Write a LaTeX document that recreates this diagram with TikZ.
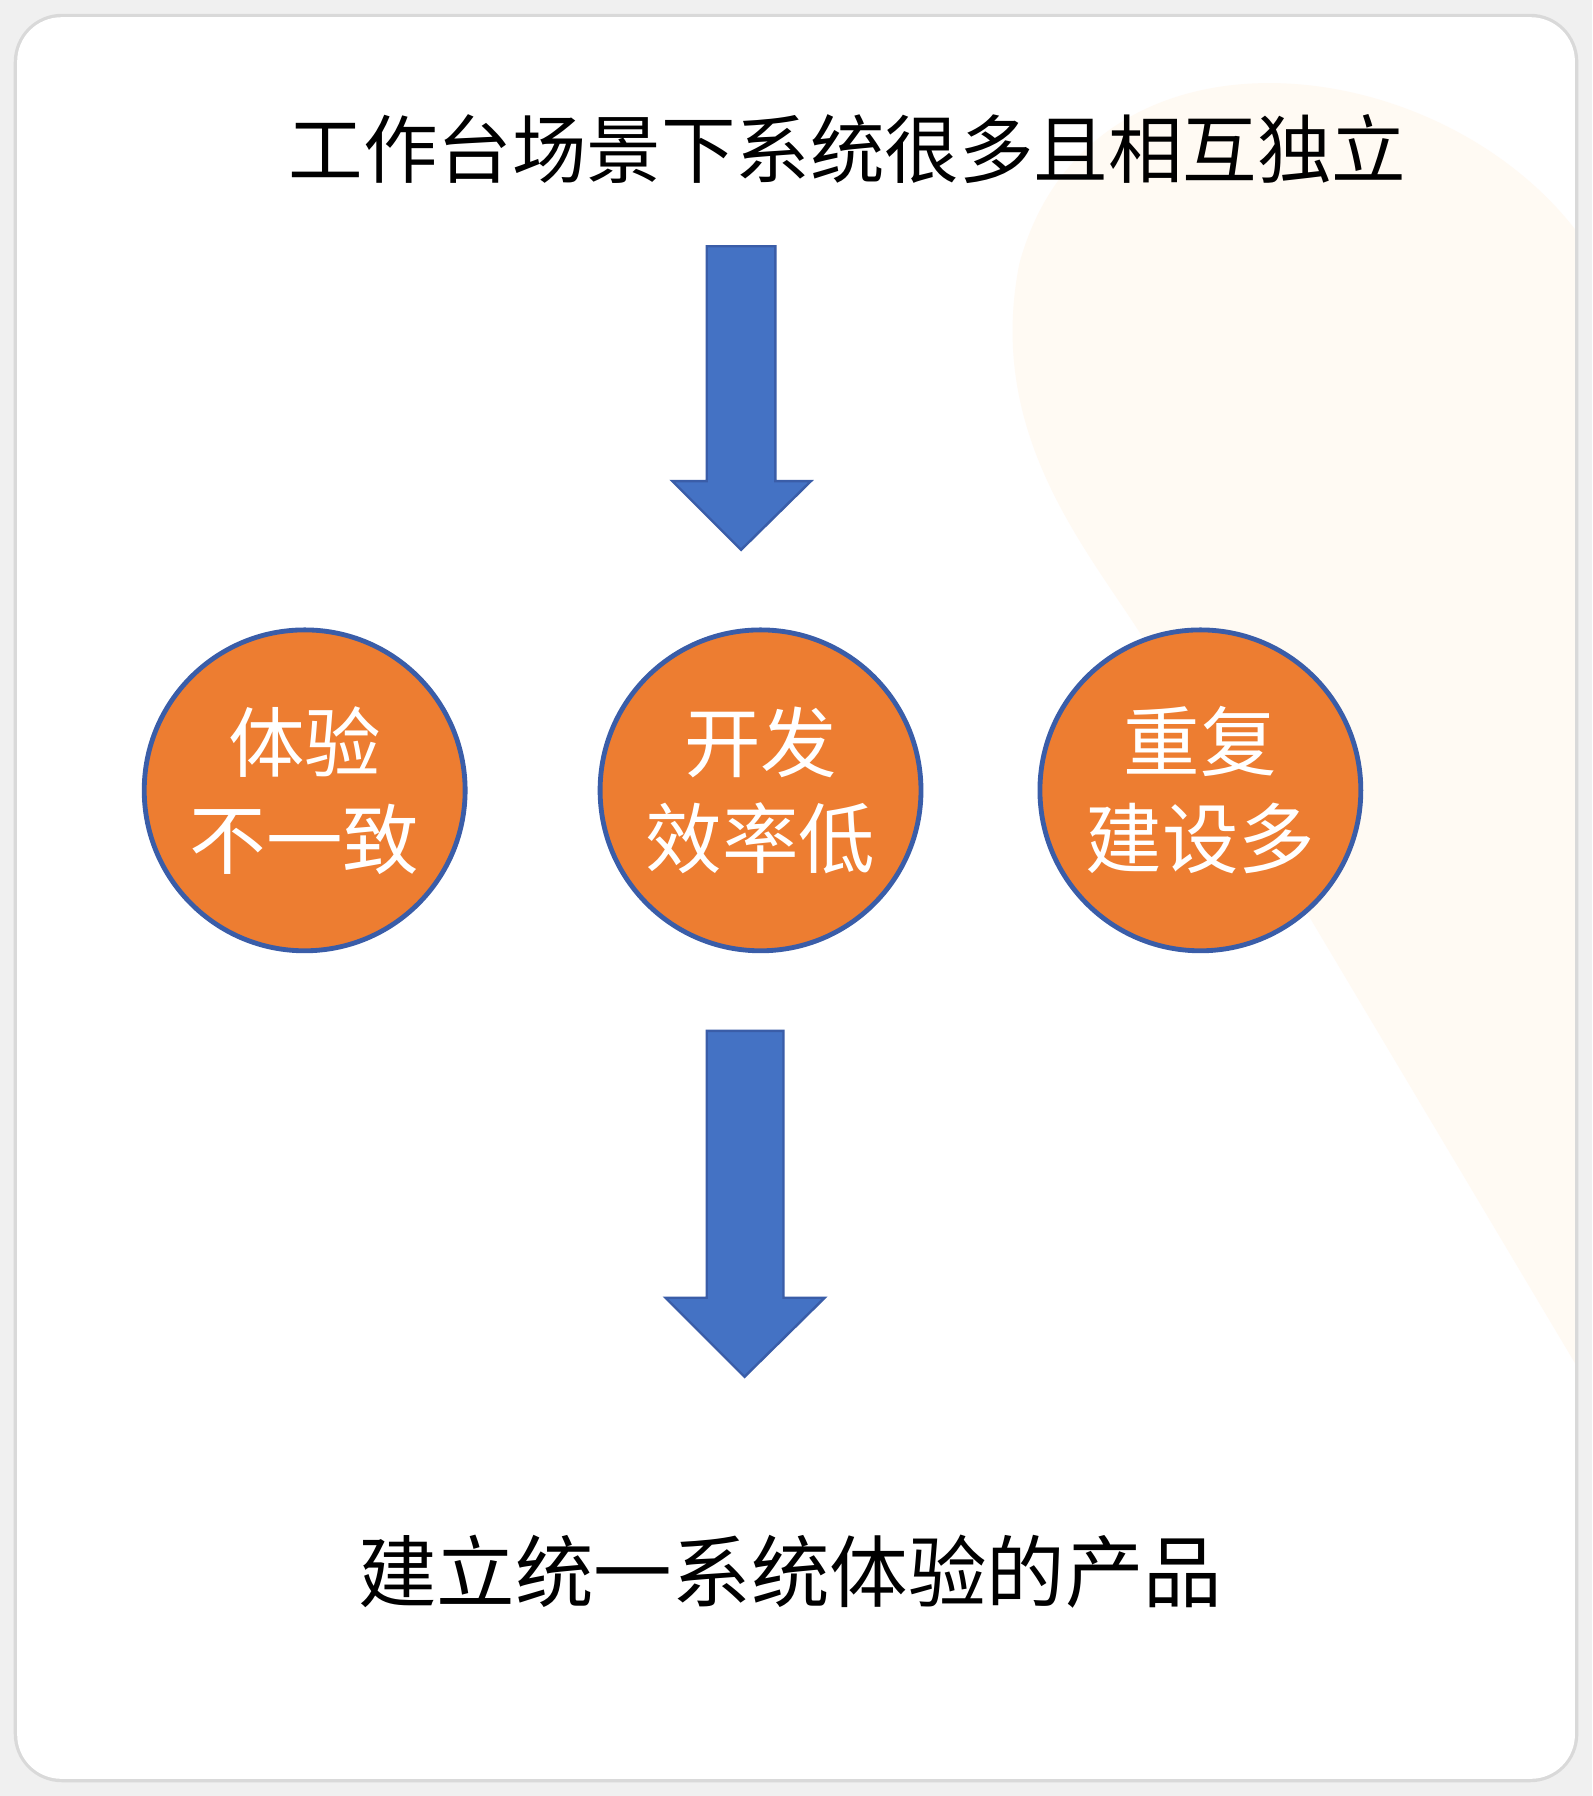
\documentclass[tikz,border=0pt]{standalone}
\usepackage{fontspec}
\newfontfamily\cjk{Noto Sans CJK SC}
\usetikzlibrary{positioning}
\definecolor{arrowblue}{HTML}{4472C4}
\definecolor{rimblue}{HTML}{3A5DA8}
\definecolor{ballorange}{HTML}{ED7D31}
\definecolor{paleband}{HTML}{FFFAF3}
\tikzstyle{ball} = [circle, draw=rimblue, line width=1.2pt, fill=ballorange, minimum size=2.8cm, text=white, align=center, font=\cjk\fontsize{19}{24}\selectfont, inner sep=0pt]
\tikzstyle{caption} = [font=\cjk\fontsize{18.5}{22}\selectfont, inner sep=0pt]
\tikzstyle{downarrow} = [fill=arrowblue, draw=rimblue, line width=0.6pt]

\begin{document}
\begin{tikzpicture}[x=0.01cm, y=-0.01cm]
		\useasboundingbox (0,0) rectangle (1390,1568);
		\fill [gray!12] (0,0) rectangle (1390,1568);
		\fill [gray!30, rounded corners=12pt] (12,12) rectangle (1378,1556);
		\fill [white, rounded corners=11pt] (15,15) rectangle (1375,1553);
		% faint band
		\fill [paleband] (1375,200) .. controls (1250,40) and (950,10) .. (890,230)
			.. controls (860,380) and (950,480) .. (1000,560) -- (1375,1190) -- cycle;
		
		\node [caption, name=title] at (740,130) {工作台场景下系统很多且相互独立};
		\node [caption, name=result, font=\cjk\fontsize{19.5}{24}\selectfont] at (690,1372) {建立统一系统体验的产品};
		
		\node [ball, name=ux] at (266,690) {体验\\不一致};
		\node [ball, name=dev] at (664,690) {开发\\效率低};
		\node [ball, name=dup] at (1048,690) {重复\\建设多};
		
		\draw [downarrow] (617,215) -- (677,215) -- (677,420) -- (708,420) -- (647,480)
			-- (587,420) -- (617,420) -- cycle;
		\draw [downarrow] (617,900) -- (684,900) -- (684,1133) -- (720,1133) -- (650,1202)
			-- (581,1133) -- (617,1133) -- cycle;
	\end{tikzpicture}
\end{document}
